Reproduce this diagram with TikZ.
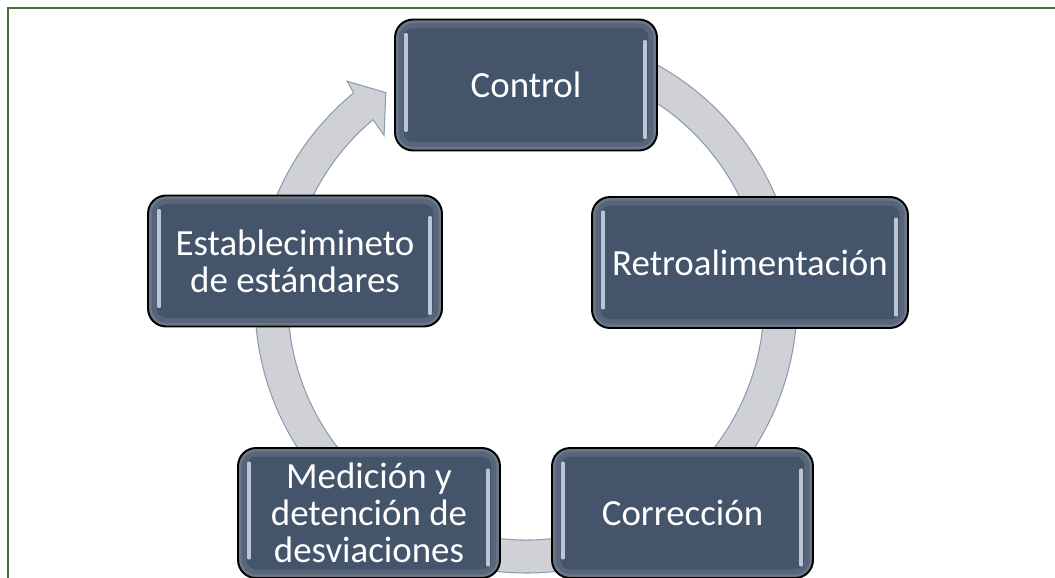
\documentclass[tikz,border=0pt]{standalone}
\usepackage{fontspec}
\setmainfont{Carlito}
\definecolor{boxblue}{HTML}{44546A}
\definecolor{ringgray}{HTML}{CFD1D6}
\definecolor{ringedge}{HTML}{8E9BAD}
\definecolor{framegreen}{HTML}{4A6E32}
\definecolor{glint}{HTML}{D8E2F0}
\begin{document}
\begin{tikzpicture}[x=0.02cm,y=-0.02cm,
    hilite/.style={glint, opacity=0.8, line width=1.8pt, line cap=round},
    stage/.style={draw=black, line width=1.1pt, fill=boxblue, rounded corners=0.36cm,
        text=white, align=center, minimum height=2.62cm, inner sep=0pt,
        font=\fontsize{21}{21}\selectfont,
        path picture={
            \draw[white, opacity=0.10, line width=0.34cm, rounded corners=0.36cm]
                (path picture bounding box.south west) rectangle (path picture bounding box.north east);
            \draw[white, opacity=0.12, line width=0.14cm, rounded corners=0.36cm]
                (path picture bounding box.south west) rectangle (path picture bounding box.north east);
            \draw[hilite] ([xshift=0.22cm,yshift=-0.30cm]path picture bounding box.north west)
                -- ([xshift=0.22cm,yshift=0.40cm]path picture bounding box.south west);
            \draw[hilite] ([xshift=-0.24cm,yshift=-0.44cm]path picture bounding box.north east)
                -- ([xshift=-0.24cm,yshift=0.26cm]path picture bounding box.south east);
        }},
    ring/.style={fill=ringgray, draw=ringedge, line width=0.6pt}]

    \clip (0,0) rectangle (1055,578);

    % Frame
    \draw[framegreen, line width=1.4pt] (8,600) -- (8,8) -- (1070,8);

    % Cycle arrow
    \begin{scope}[shift={(526,302)}]
        \filldraw[ring] (-130:238) -- (-130.4:219) -- (-123.8:252) -- (-129:284) -- (-129.5:271)
            arc[start angle=-129.5, end angle=-440, radius=271] -- (-440:238)
            arc[start angle=-440, end angle=-130, radius=238] -- cycle;
    \end{scope}

    % Stages
    \node[stage, minimum width=5.24cm] (control) at (526,85) {Control};
    \node[stage, minimum width=6.32cm] (retro) at (750,262.5) {Retroalimentación};
    \node[stage, minimum width=5.22cm, minimum height=2.6cm] (correccion) at (682.5,513) {Corrección};
    \node[stage, minimum width=5.24cm, minimum height=2.6cm] (medicion) at (369,513) {Medición y\\detención de\\desviaciones};
    \node[stage, minimum width=5.88cm] (estandares) at (295,261) {Establecimineto\\de estándares};
\end{tikzpicture}
\end{document}
